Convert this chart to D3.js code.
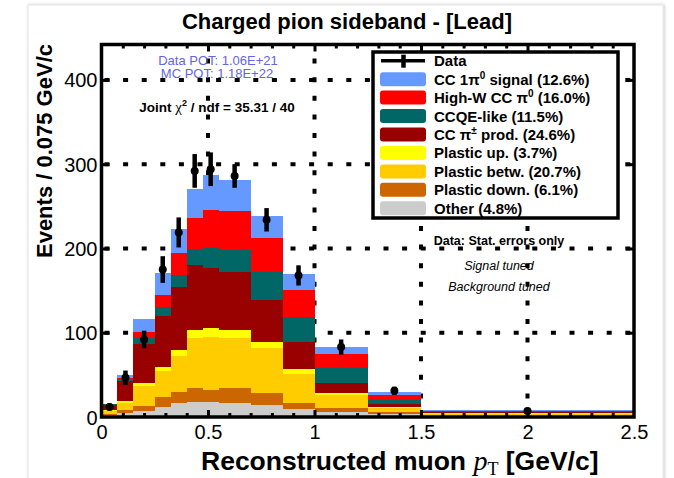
<!DOCTYPE html>
<html>
<head>
<meta charset="utf-8">
<script src="https://cdn.jsdelivr.net/npm/d3@7"></script>
<style>
  body { margin: 0; background: #fff; }
  svg { display: block; }
  text { font-family: "Liberation Sans", Arial, Helvetica, sans-serif; }
</style>
</head>
<body>
<svg id="chart" width="674" height="478"></svg>
<script>
// Bin edges of reconstructed muon pT [GeV/c]
const binEdges = [0, 0.075, 0.15, 0.25, 0.325, 0.4, 0.475, 0.55, 0.7, 0.85, 1.0, 1.25, 1.5, 2.5];

// MC components, events / 0.075 GeV/c, per bin (bottom of stack first)
const other       = [2.5, 5.1, 7.5, 11.5, 17.0, 18.2, 18.0, 16.5, 14.2, 9.1, 6.3, 3.6, 0.5];
const plasticDown = [1.5, 3.2, 5.5, 12.5, 13.0, 15.8, 14.0, 17.5, 13.9, 7.9, 4.7, 2.0, 0.7];
const plasticBetw = [3.0, 8.7, 23.8, 31.0, 42.4, 59.4, 62.5, 59.4, 53.4, 34.0, 14.7, 5.4, 2.3];
const plasticUp   = [1.3, 2.0, 3.7, 4.7, 7.1, 9.8, 11.5, 9.8, 7.8, 5.6, 2.4, 1.2, 0.7];
const ccPiPm      = [6.3, 24.3, 46.5, 60.1, 74.3, 77.1, 70.4, 69.2, 49.5, 31.9, 11.9, 3.2, 1.3];
const ccqeLike    = [0.3, 0.7, 6.5, 10.2, 14.6, 18.7, 24.4, 25.6, 33.6, 29.8, 18.5, 4.8, 0.8];
const highWPi0    = [0.3, 2.0, 6.9, 14.7, 25.8, 36.7, 44.8, 46.4, 40.3, 32.4, 15.9, 5.9, 1.3];
const signalPi0   = [0.3, 3.8, 15.6, 25.7, 28.4, 35.3, 41.4, 36.6, 26.1, 18.9, 9.0, 3.9, 0.6];

// Data points with statistical errors
const dataValues = [12, 46.6, 92, 175, 219, 292, 294, 286, 234, 168, 83, 31, 7];
const dataErrors = [4, 8.5, 10.4, 15.8, 17.8, 20, 20, 14, 13.9, 12, 9, 5, 2.5];

// Axis ticks
const xTicks = [0, 0.5, 1, 1.5, 2, 2.5];
const xTickLabels = ["0", "0.5", "1", "1.5", "2", "2.5"];
const yTicks = [0, 100, 200, 300, 400];
const yTickLabels = ["0", "100", "200", "300", "400"];

// Legend (top to bottom), "^" marks a superscript character
const seriesKeys   = ["signalPi0", "highWPi0", "ccqeLike", "ccPiPm", "plasticUp", "plasticBetw", "plasticDown", "other"];
const seriesLabels = ["CC 1π^0 signal (12.6%)", "High-W CC π^0 (16.0%)", "CCQE-like (11.5%)", "CC π^± prod. (24.6%)",
                      "Plastic up. (3.7%)", "Plastic betw. (20.7%)", "Plastic down. (6.1%)", "Other (4.8%)"];
const seriesColors = ["#6699ff", "#ff0000", "#006666", "#990000", "#ffff00", "#ffcc00", "#cc6600", "#cccccc"];

const series = { other, plasticDown, plasticBetw, plasticUp, ccPiPm, ccqeLike, highWPi0, signalPi0 };
const stackOrder = ["other", "plasticDown", "plasticBetw", "plasticUp", "ccPiPm", "ccqeLike", "highWPi0", "signalPi0"];
const colorOf = Object.fromEntries(seriesKeys.map((k, i) => [k, seriesColors[i]]));

const svg = d3.select("#chart");
const X0 = 101.5, X1 = 634, Y0 = 417, Y1 = 44.5;
const x = d3.scaleLinear().domain([0, 2.5]).range([X0, X1]);
const y = d3.scaleLinear().domain([0, 442]).range([Y0, Y1]);

// Page card with a soft edge
const defs = svg.append("defs");
const sh = defs.append("filter").attr("id", "cardShadow").attr("x", "-5%").attr("y", "-5%").attr("width", "110%").attr("height", "110%");
sh.append("feDropShadow").attr("dx", 1).attr("dy", 0).attr("stdDeviation", 1.6).attr("flood-color", "#000").attr("flood-opacity", 0.22);
svg.append("rect").attr("x", 28).attr("y", 5).attr("width", 635).attr("height", 520)
  .attr("fill", "#fff").attr("stroke", "#e4e4e4").attr("filter", "url(#cardShadow)");

// Title
svg.append("text").attr("x", 347).attr("y", 29).attr("text-anchor", "middle")
  .attr("font-size", 22).attr("font-weight", "bold").text("Charged pion sideband - [Lead]");

// Dotted grid (behind histogram)
const gridG = svg.append("g").attr("stroke", "#000").attr("stroke-width", 4).attr("stroke-dasharray", "5,13.6");
gridG.selectAll("line.h").data(yTicks.filter(v => v > 0)).join("line")
  .attr("x1", X0 + 3).attr("x2", X1).attr("y1", d => y(d)).attr("y2", d => y(d));
gridG.selectAll("line.v").data(xTicks.filter(v => v > 0 && v < 2.5)).join("line")
  .attr("x1", d => x(d)).attr("x2", d => x(d)).attr("y1", Y0).attr("y2", Y1);

// Stacked MC histogram
const bins = binEdges.slice(0, -1).map((lo, i) => {
  const row = { lo, hi: binEdges[i + 1] };
  stackOrder.forEach(k => row[k] = series[k][i]);
  return row;
});
const stacked = d3.stack().keys(stackOrder)(bins);
svg.append("g").attr("shape-rendering", "crispEdges")
  .selectAll("g").data(stacked).join("g").attr("fill", d => colorOf[d.key])
  .selectAll("rect").data(d => d).join("rect")
  .attr("x", d => x(d.data.lo)).attr("width", d => x(d.data.hi) - x(d.data.lo))
  .attr("y", d => y(d[1])).attr("height", d => Math.max(0, y(d[0]) - y(d[1])));

// Frame and ticks
const axG = svg.append("g");
const minorX = d3.range(0, 2.5001, 0.1).map(v => +v.toFixed(2)).filter(v => !xTicks.includes(v));
const tickStyle = g => { g.select(".domain").remove(); g.selectAll("line").attr("stroke", "#000").attr("stroke-width", 3); g.selectAll("text").remove(); };
axG.append("g").attr("transform", `translate(0,${Y0})`).call(d3.axisTop(x).tickValues(xTicks.slice(1, -1)).tickSize(7)).call(tickStyle);
axG.append("g").attr("transform", `translate(0,${Y0})`).call(d3.axisTop(x).tickValues(minorX).tickSize(4)).call(tickStyle);
axG.append("g").attr("transform", `translate(0,${Y1})`).call(d3.axisBottom(x).tickValues(xTicks.slice(1, -1)).tickSize(7)).call(tickStyle);
axG.append("g").attr("transform", `translate(0,${Y1})`).call(d3.axisBottom(x).tickValues(minorX).tickSize(4)).call(tickStyle);
axG.append("g").attr("transform", `translate(${X1},0)`).call(d3.axisLeft(y).tickValues(yTicks.slice(1)).tickSize(8)).call(tickStyle);
axG.append("g").attr("transform", `translate(${X0},0)`).call(d3.axisRight(y).tickValues(yTicks.slice(1)).tickSize(8)).call(tickStyle);
axG.append("rect").attr("x", X0).attr("y", Y1).attr("width", X1 - X0).attr("height", Y0 - Y1)
  .attr("fill", "none").attr("stroke", "#000").attr("stroke-width", 3.5);

// Tick labels
const xl = svg.append("g").attr("transform", `translate(0,${Y0})`)
  .call(d3.axisBottom(x).tickValues(xTicks).tickSize(0).tickPadding(0).tickFormat((d, i) => xTickLabels[i]));
xl.select(".domain").remove();
xl.selectAll("text").attr("y", 22).attr("dy", 0).attr("font-size", 20).attr("fill", "#000")
  .attr("font-family", "'Liberation Sans', Arial, sans-serif");
const yl = svg.append("g").attr("transform", `translate(${X0},0)`)
  .call(d3.axisLeft(y).tickValues(yTicks).tickSize(0).tickPadding(0).tickFormat((d, i) => yTickLabels[i]));
yl.select(".domain").remove();
yl.selectAll("text").attr("x", -4).attr("dy", "0.35em").attr("font-size", 20).attr("fill", "#000")
  .attr("font-family", "'Liberation Sans', Arial, sans-serif");

// Axis titles
svg.append("text").attr("transform", "translate(52,44) rotate(-90)").attr("text-anchor", "end")
  .attr("font-size", 22).attr("font-weight", "bold").text("Events / 0.075 GeV/c");
const xt = svg.append("text").attr("x", 201).attr("y", 470).attr("text-anchor", "start").attr("font-size", 26.5).attr("font-weight", "bold");
xt.append("tspan").text("Reconstructed muon ");
xt.append("tspan").attr("font-family", "'Liberation Serif', 'Times New Roman', serif").attr("font-style", "italic")
  .attr("font-weight", "normal").attr("font-size", 28).text("p");
xt.append("tspan").attr("font-family", "'Liberation Serif', 'Times New Roman', serif").attr("font-weight", "normal")
  .attr("font-size", 18).attr("dy", 5).text("T");
xt.append("tspan").attr("dy", -5).text(" [GeV/c]");

// Data points with error bars
const dataG = svg.append("g");
const centers = dataValues.map((v, i) => ({ xc: (binEdges[i] + binEdges[i + 1]) / 2, v, e: dataErrors[i] }));
dataG.selectAll("line").data(centers).join("line")
  .attr("x1", d => x(d.xc)).attr("x2", d => x(d.xc))
  .attr("y1", d => y(d.v + d.e)).attr("y2", d => y(Math.max(0, d.v - d.e)))
  .attr("stroke", "#000").attr("stroke-width", 4.5);
dataG.selectAll("circle").data(centers).join("circle")
  .attr("cx", d => x(d.xc)).attr("cy", d => y(d.v)).attr("r", 4).attr("fill", "#000");

// Annotations
svg.append("text").attr("x", 218).attr("y", 64.5).attr("text-anchor", "middle").attr("font-size", 13)
  .attr("fill", "#6464e6").text("Data POT: 1.06E+21");
svg.append("text").attr("x", 217).attr("y", 78).attr("text-anchor", "middle").attr("font-size", 13)
  .attr("fill", "#6464e6").text("MC POT: 1.18E+22");
const chi = svg.append("text").attr("x", 217).attr("y", 111.5).attr("text-anchor", "middle")
  .attr("font-size", 13.5).attr("font-weight", "bold");
chi.append("tspan").text("Joint ");
chi.append("tspan").attr("font-family", "'Liberation Serif', serif").attr("font-weight", "normal").attr("font-size", 15).text("χ");
chi.append("tspan").attr("font-size", 9).attr("dy", -6).text("2");
chi.append("tspan").attr("dy", 6).text(" / ndf = 35.31 / 40");
svg.append("text").attr("x", 499).attr("y", 245).attr("text-anchor", "middle").attr("font-size", 12.5)
  .attr("font-weight", "bold").text("Data: Stat. errors only");
svg.append("text").attr("x", 499).attr("y", 270).attr("text-anchor", "middle").attr("font-size", 12.5)
  .attr("font-style", "italic").text("Signal tuned");
svg.append("text").attr("x", 499).attr("y", 290.5).attr("text-anchor", "middle").attr("font-size", 12.5)
  .attr("font-style", "italic").text("Background tuned");

// Legend
const lg = svg.append("g");
lg.append("rect").attr("x", 373).attr("y", 52).attr("width", 245).attr("height", 166)
  .attr("fill", "#fff").attr("stroke", "#000").attr("stroke-width", 3.5);
const rowY = i => 60.7 + i * 18.45;
lg.append("line").attr("x1", 381).attr("x2", 425).attr("y1", rowY(0)).attr("y2", rowY(0)).attr("stroke", "#000").attr("stroke-width", 3.5);
lg.append("line").attr("x1", 403.5).attr("x2", 403.5).attr("y1", rowY(0) - 6).attr("y2", rowY(0) + 7).attr("stroke", "#000").attr("stroke-width", 4.5);
lg.append("text").attr("x", 434).attr("y", rowY(0) + 5.5).attr("font-size", 15).attr("font-weight", "bold").text("Data");
seriesLabels.forEach((lab, i) => {
  const cy = rowY(i + 1);
  lg.append("rect").attr("x", 380).attr("y", cy - 7).attr("width", 46).attr("height", 14).attr("rx", 3)
    .attr("fill", seriesColors[i]);
  const t = lg.append("text").attr("x", 434).attr("y", cy + 5.5).attr("font-size", 15).attr("font-weight", "bold");
  let raised = false;
  lab.split(/(\^.)/).filter(p => p).forEach(p => {
    if (p[0] === "^") {
      t.append("tspan").attr("font-size", 10).attr("dy", -6).text(p[1]);
      raised = true;
    } else {
      const ts = t.append("tspan").text(p);
      if (raised) { ts.attr("dy", 6); raised = false; }
    }
  });
});
</script>
</body>
</html>
